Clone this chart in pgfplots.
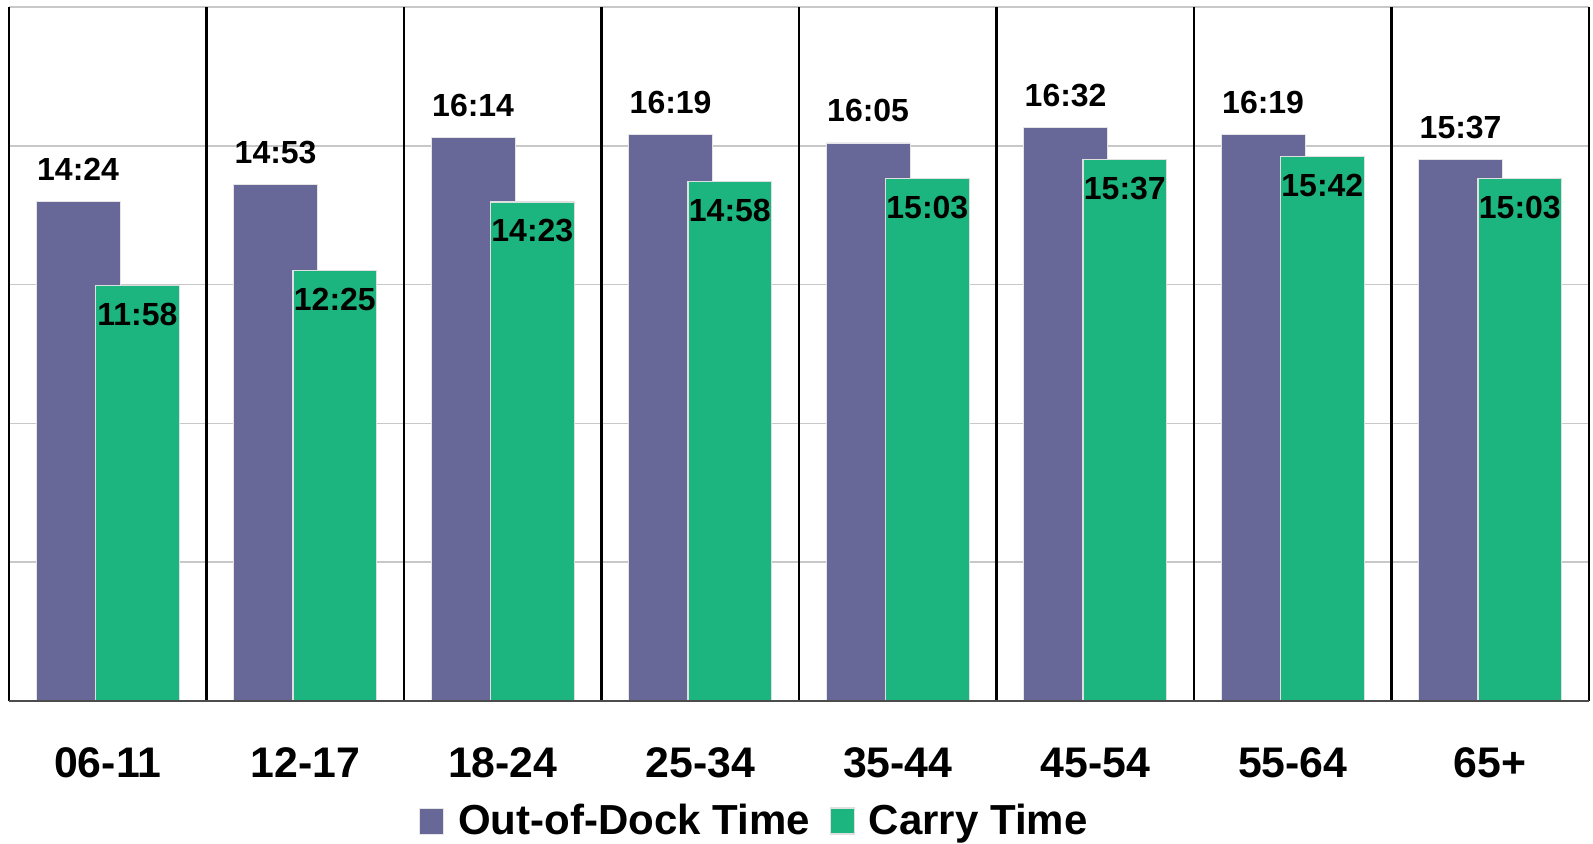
\documentclass[border=0pt]{standalone}
\usepackage{pgfplots}
\pgfplotsset{compat=1.18}
\usepackage{fontspec}
\setmainfont{Liberation Sans}
\definecolor{dockpurple}{RGB}{103,103,152}
\definecolor{carrygreen}{RGB}{28,181,127}
\definecolor{gridgray}{RGB}{200,200,200}
\begin{document}
\begin{tikzpicture}
\pgfplotsset{
  sqlegend/.style={legend image code/.code={\fill[##1] (0pt,-6.5pt) rectangle (12pt,6.5pt);}},
}
\begin{axis}[
  at={(4.5pt,71pt)}, anchor=south west,
  scale only axis, width=790pt, height=347pt,
  xmin=-0.5, xmax=7.5, ymin=0, ymax=1200,
  axis line style={draw=none},
  ytick={0,240,...,1200}, yticklabels={},
  ymajorgrids, major grid style={gridgray, line width=0.8pt},
  xtick={0,...,7},
  xticklabels={06-11,12-17,18-24,25-34,35-44,45-54,55-64,65+},
  major tick length=0pt,
  xticklabel style={anchor=base, yshift=-38pt, font=\bfseries\fontsize{21.4}{21.4}\selectfont},
  extra x ticks={-0.5,0.5,1.5,2.5,3.5,4.5,5.5,6.5,7.5},
  extra x tick labels={},
  extra x tick style={xmajorgrids=true, major grid style={black, line width=1.1pt}},
  legend columns=2,
  legend style={at={(0.4734,-0.1729)}, anchor=center, draw=none, fill=none, inner sep=0pt,
    font=\bfseries\fontsize{21}{21}\selectfont,
    /tikz/every odd column/.append style={column sep=3.5pt},
    /tikz/every even column/.append style={column sep=6.5pt},
    nodes={inner sep=3.5pt}},
  nodes near coords,
  point meta=explicit symbolic,
  every node near coord/.append style={font=\bfseries\fontsize{16}{16}\selectfont, inner sep=0pt, anchor=base},
]
\addplot[ybar, bar width=0.425, bar shift=-0.15, fill=dockpurple, draw=white!80!gray, line width=0.4pt, sqlegend,
  every node near coord/.append style={yshift=10.5pt, xshift=-14.81pt}]
coordinates {(0,864)[14:24] (1,893)[14:53] (2,974)[16:14] (3,979)[16:19] (4,965)[16:05] (5,992)[16:32] (6,979)[16:19] (7,937)[15:37]};
\addlegendentry{Out-of-Dock Time}
\addplot[ybar, bar width=0.425, bar shift=0.15, fill=carrygreen, draw=white!75!gray, line width=0.6pt, sqlegend,
  every node near coord/.append style={yshift=-20pt, xshift=14.81pt}]
coordinates {(0,718)[11:58] (1,745)[12:25] (2,863)[14:23] (3,898)[14:58] (4,903)[15:03] (5,937)[15:37] (6,942)[15:42] (7,903)[15:03]};
\addlegendentry{Carry Time}
\draw[black!70, line width=0.8pt] (axis cs:-0.5,0) -- (axis cs:7.5,0);
\end{axis}
\pgfresetboundingbox
\path (0,0) rectangle (796.5pt,421.5pt);
\end{tikzpicture}
\end{document}
